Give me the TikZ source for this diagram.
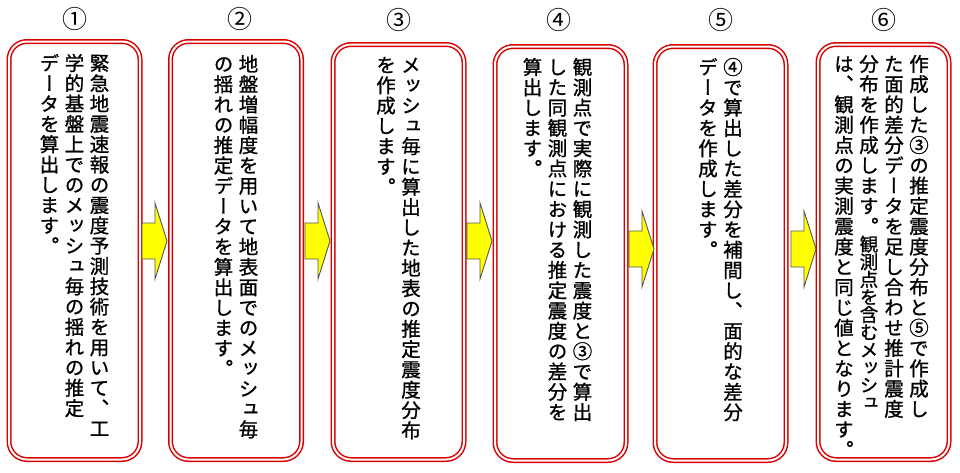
\documentclass[tikz,border=0pt]{standalone}
\usepackage{fontspec}
\usepackage{tikz}
\usetikzlibrary{positioning}

\newfontfamily\jpfont{Noto Sans CJK JP}
\newfontfamily\tatefont{Noto Sans CJK JP}[RawFeature=+vert, FakeBold=1]

\definecolor{boxred}{RGB}{215,0,0}
\definecolor{arrowyellow}{RGB}{255,255,0}
\definecolor{arrowgray}{RGB}{85,85,85}

% vertical (tate) columns: one character per row
\newlength\tatecw \setlength\tatecw{19.5pt}
\newlength\tatepitch \setlength\tatepitch{20.3pt}
\makeatletter
\def\vc@loop#1{\ifx\relax#1\else\hbox to\tatecw{\hss#1\hss}\expandafter\vc@loop\fi}
\newcommand\vchars[1]{\vc@loop#1\relax}
\newcommand\vcol[1]{\vtop{\baselineskip=\tatepitch\lineskip=0pt\lineskiplimit=-\maxdimen\vchars{#1}}}
\newcommand\vcolmix[2]{\vtop{\baselineskip=\tatepitch\lineskip=0pt\lineskiplimit=-\maxdimen\vchars{#1}%
  \fontsize{18.5}{17.6}\selectfont\baselineskip=17.6pt\vchars{#2}}}
\makeatother
\newcommand\colgap{\hskip5.5pt}

\tikzset{
  stepbox/.style={draw=boxred, double=white, double distance=2pt, line width=1.5pt,
    rounded corners=18pt, fill=white, minimum width=131pt, inner sep=0pt},
  tate/.style={inner sep=0pt, font=\tatefont\fontsize{19.5}{20.3}\selectfont},
  stepnum/.style={inner sep=0pt, font=\jpfont\fontsize{25}{25}\selectfont},
  blockarrow/.style={fill=arrowyellow, draw=arrowgray, line width=0.9pt, line join=miter}
}

\begin{document}
\begin{tikzpicture}[x=1pt, y=-1pt]
    \useasboundingbox (0,0) rectangle (960,472);

    % boxes
    \node[stepbox, minimum height=418pt] (b1) at (74.5, 250.5) {};
    \node[stepbox, minimum height=418pt] (b2) at (236, 250.5) {};
    \node[stepbox, minimum height=415pt] (b3) at (398.5, 252) {};
    \node[stepbox, minimum height=414pt] (b4) at (560.5, 253.5) {};
    \node[stepbox, minimum height=414pt] (b5) at (720.5, 253.5) {};
    \node[stepbox, minimum height=415pt] (b6) at (883.5, 252) {};

    % step numbers
    \node[stepnum, above=10pt of b1.north] (n1) {①};
    \node[stepnum, above=10pt of b2.north, xshift=4pt] (n2) {②};
    \node[stepnum, above=12pt of b3.north] (n3) {③};
    \node[stepnum, above=14pt of b4.north, xshift=-2pt] (n4) {④};
    \node[stepnum, above=14pt of b5.north] (n5) {⑤};
    \node[stepnum, above=12pt of b6.north] (n6) {⑥};

    % texts
    \node[tate, below=13pt of b1.north] (t1) {\vcol{データを算出します。}\colgap\vcol{学的基盤上でのメッシュ毎の揺れの推定}\colgap\vcol{緊急地震速報の震度予測技術を用いて、工}};
    \node[tate, below=14pt of b2.north] (t2) {\vcol{の揺れの推定データを算出します。}\colgap\vcol{地盤増幅度を用いて地表面でのメッシュ毎}};
    \node[tate, below=13pt of b3.north] (t3) {\vcol{を作成します。}\colgap\vcol{メッシュ毎に算出した地表の推定震度分布}};
    \node[tate, below=12pt of b4.north, xshift=-3pt] (t4) {\vcol{算出します。}\colgap\vcol{した同観測点における推定震度の差分を}\colgap\vcol{観測点で実際に観測した震度と③で算出}};
    \node[tate, below=12pt of b5.north] (t5) {\vcol{データを作成します。}\colgap\vcol{④で算出した差分を補間し、面的な差分}};
    \node[tate, below=11pt of b6.north, xshift=-2pt] (t6) {\vcol{は、観測点の実測震度と同じ値となります。}\colgap\vcolmix{分布を作成します。}{観測点を含むメッシュ}\colgap\vcol{た面的差分データを足し合わせ推計震度}\colgap\vcol{作成した③の推定震度分布と⑤で作成し}};

    % arrows between the boxes
    \coordinate (a1) at (142, 241);
    \coordinate (a2) at (305, 241);
    \coordinate (a3) at (467, 241);
    \coordinate (a4) at (629, 249);
    \coordinate (a5) at (791, 249);
    \foreach \a in {a1,a2,a3,a4,a5}
        \draw[blockarrow] (\a) ++(0,-18) -- ++(13,0) -- ++(0,-20) -- ++(12,38)
            -- ++(-12,38) -- ++(0,-20) -- ++(-13,0) -- cycle;

\end{tikzpicture}
\end{document}
